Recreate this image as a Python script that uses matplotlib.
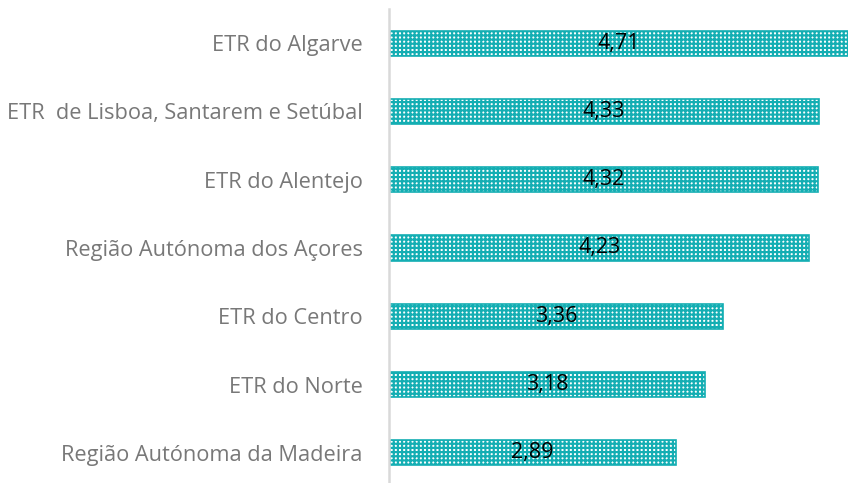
import matplotlib
matplotlib.use("Agg")
import matplotlib.pyplot as plt

categories = ["ETR do Algarve", "ETR  de Lisboa, Santarem e Setúbal", "ETR do Alentejo",
              "Região Autónoma dos Açores", "ETR do Centro", "ETR do Norte",
              "Região Autónoma da Madeira"]
values = [4.71, 4.33, 4.32, 4.23, 3.36, 3.18, 2.89]
value_labels = ["4,71", "4,33", "4,32", "4,23", "3,36", "3,18", "2,89"]

plt.rcParams['font.family'] = ['Open Sans', 'DejaVu Sans']
plt.rcParams['hatch.linewidth'] = 1.55

fig = plt.figure(figsize=(8.48, 4.83), dpi=100)
ax = fig.add_axes([389/848, -4/483, (848-389)/848, 478/483])

ypos = list(range(len(categories)))
ax.barh(ypos, values, height=0.37, color="white", edgecolor="#14AEB3",
        hatch="++++", linewidth=1.2)
XMAX = 4.62
for y, v, lab in zip(ypos, values, value_labels):
    ax.text(min(v, XMAX) / 2, y, lab, ha="center", va="center", fontsize=15.5,
            color="black")

ax.set_xlim(0, XMAX)
ax.set_ylim(len(categories) - 0.5, -0.5)
ax.set_yticks(ypos)
ax.set_yticklabels(categories, fontsize=15.7, color="#787878")
ax.tick_params(axis="y", length=0, pad=19)
ax.set_xticks([])
for s in ["top", "right", "bottom"]:
    ax.spines[s].set_visible(False)
ax.spines["left"].set_color("#d9d9d9")
ax.spines["left"].set_linewidth(1.8)

fig.savefig("out.png", dpi=100)
